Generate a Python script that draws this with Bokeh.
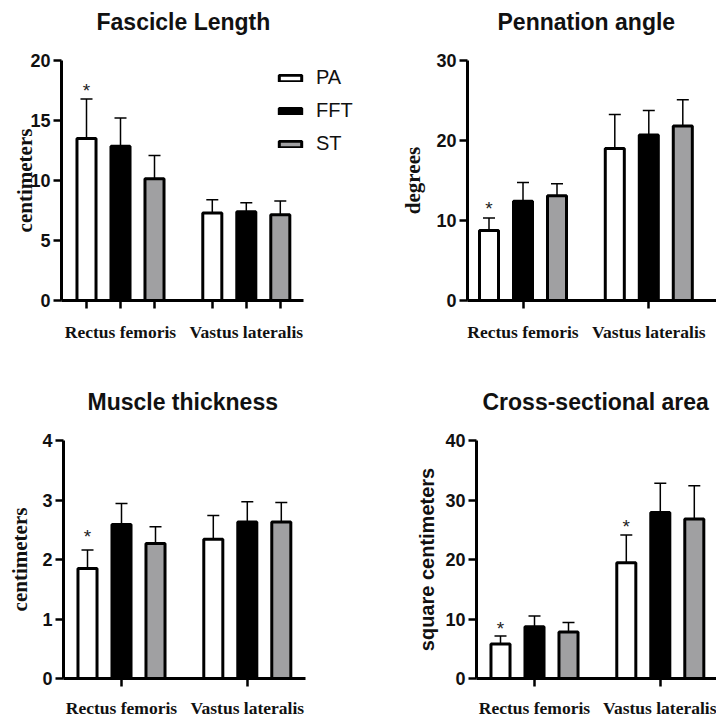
from bokeh.plotting import figure
from bokeh.models import Range1d, FixedTicker, Whisker, TeeHead, ColumnDataSource, Legend, LegendItem
from bokeh.layouts import column, row
from bokeh.embed import file_html
from bokeh.resources import INLINE
from bokeh.core.properties import value

# ---------------- data ----------------
groups = ["Rectus femoris", "Vastus lateralis"]
series = ["PA", "FFT", "ST"]
colors = ["#ffffff", "#000000", "#a0a0a2"]

# Fascicle length (cm)
fl_rf_mean = [13.5, 12.85, 10.15]
fl_rf_sd = [3.3, 2.35, 1.93]
fl_vl_mean = [7.3, 7.4, 7.15]
fl_vl_sd = [1.1, 0.75, 1.15]
fl_star_group = [0]
fl_star_y = [17.8]

# Pennation angle (degrees)
pa_rf_mean = [8.75, 12.4, 13.1]
pa_rf_sd = [1.55, 2.35, 1.5]
pa_vl_mean = [19.0, 20.7, 21.8]
pa_vl_sd = [4.25, 3.05, 3.3]
pa_star_group = [0]
pa_star_y = [12.0]

# Muscle thickness (cm)
mt_rf_mean = [1.85, 2.59, 2.27]
mt_rf_sd = [0.31, 0.35, 0.28]
mt_vl_mean = [2.34, 2.63, 2.63]
mt_vl_sd = [0.40, 0.34, 0.33]
mt_star_group = [0]
mt_star_y = [2.45]

# Cross-sectional area (cm^2)
csa_rf_mean = [5.8, 8.7, 7.8]
csa_rf_sd = [1.35, 1.8, 1.6]
csa_vl_mean = [19.45, 27.9, 26.8]
csa_vl_sd = [4.65, 4.9, 5.6]
csa_star_group = [0, 1]
csa_star_y = [9.1, 26.3]

SANS = "Liberation Sans"
SERIF = "Liberation Serif"
GROUP_SEP = 3.7      # distance between group centres, in bar pitches
PX_PER_UNIT = 34.0
BAR_W = 0.56


def panel(title, title_left, ylabel, ylabel_font, ylabel_size, ylabel_standoff, ymax, ystep,
          rf_mean, rf_sd, vl_mean, vl_sd, star_group, star_y,
          w, h, b_left, b_right, b_top, b_bottom, first_px, axis_len,
          per_bar_ticks=False, legend=False, xlabel_standoff=13):
    frame_w = w - b_left - b_right
    x0 = -1 - first_px / PX_PER_UNIT
    x1 = x0 + frame_w / PX_PER_UNIT
    p = figure(width=w, height=h, output_backend="svg", toolbar_location=None,
               x_range=Range1d(x0, x1), y_range=Range1d(0, ymax),
               min_border_left=b_left, min_border_right=b_right,
               min_border_top=b_top, min_border_bottom=b_bottom)
    p.outline_line_color = None
    p.grid.visible = False
    p.background_fill_color = "white"
    p.border_fill_color = "white"

    # a blank second line lifts the title higher above the frame
    p.title.text = title + "\n "
    p.title.text_font = SANS
    p.title.text_font_size = "23px"
    p.title.text_font_style = "bold"
    p.title.text_color = "#111111"
    p.title.align = "left"
    p.title.offset = title_left
    p.title.standoff = 0

    centers = [0.0, GROUP_SEP]
    renderers = []
    xs_all, lo_all, hi_all = [], [], []
    for i, s in enumerate(series):
        xs = [c + (i - 1) for c in centers]
        tops = [rf_mean[i], vl_mean[i]]
        sds = [rf_sd[i], vl_sd[i]]
        r = p.vbar(x=xs, top=tops, bottom=0, width=BAR_W, fill_color=colors[i],
                   line_color="black", line_width=3)
        renderers.append(r)
        xs_all += xs
        lo_all += tops
        hi_all += [t + d for t, d in zip(tops, sds)]

    src = ColumnDataSource(dict(x=xs_all, lower=lo_all, upper=hi_all))
    wk = Whisker(base="x", lower="lower", upper="upper", source=src,
                 dimension="height", line_color="black", line_width=1.5,
                 upper_head=TeeHead(size=12, line_color="black", line_width=1.5),
                 lower_head=None)
    p.add_layout(wk)

    sx = [centers[g] - 1 for g in star_group]
    p.text(x=sx, y=star_y, text=["*"] * len(sx), text_font=value(SANS),
           text_font_size="19px", text_align="center", text_baseline="middle",
           y_offset=4, text_color="#222222")

    # y axis
    ya = p.yaxis[0]
    ya.ticker = FixedTicker(ticks=list(range(0, ymax + 1, ystep)))
    ya.bounds = (0, ymax)
    ya.axis_line_width = 3
    ya.major_tick_line_width = 2.5
    ya.major_tick_out = 8
    ya.major_tick_in = 0
    ya.minor_tick_line_color = None
    ya.major_label_text_font = SANS
    ya.major_label_text_font_style = "bold"
    ya.major_label_text_font_size = "18px"
    ya.major_label_text_color = "#111111"
    ya.major_label_standoff = 3
    ya.axis_label = ylabel
    ya.axis_label_text_font = ylabel_font
    ya.axis_label_text_font_style = "bold"
    ya.axis_label_text_font_size = ylabel_size
    ya.axis_label_text_color = "#111111"
    ya.axis_label_standoff = ylabel_standoff

    # x axis
    xa = p.xaxis[0]
    if per_bar_ticks:
        ticks = [c + k for c in centers for k in (-1, 0, 1)]
    else:
        ticks = list(centers)
    xa.ticker = FixedTicker(ticks=ticks)
    overrides = {}
    for t in ticks:
        overrides[t] = ""
    for c, g in zip(centers, groups):
        overrides[c] = g
    xa.major_label_overrides = overrides
    xa.bounds = (x0, x0 + axis_len / PX_PER_UNIT)
    xa.axis_line_width = 3
    xa.major_tick_line_width = 2.5
    xa.major_tick_out = 8
    xa.major_tick_in = 0
    xa.minor_tick_line_color = None
    xa.major_label_text_font = SERIF
    xa.major_label_text_font_style = "bold"
    xa.major_label_text_font_size = "17.5px"
    xa.major_label_text_color = "#111111"
    xa.major_label_standoff = xlabel_standoff

    if legend:
        items = [LegendItem(label=s, renderers=[r]) for s, r in zip(series, renderers)]
        lg = Legend(items=items, location=(215, 145), orientation="vertical",
                    glyph_width=28, glyph_height=8, label_height=8, spacing=10,
                    padding=0, margin=0, label_standoff=12,
                    label_text_font=SANS, label_text_font_size="20px",
                    label_text_color="#111111",
                    border_line_alpha=0, background_fill_alpha=0)
        p.add_layout(lg)
    return p


p1 = panel("Fascicle Length", 35, "centimeters", SERIF, "21px", -10, 20, 5,
           fl_rf_mean, fl_rf_sd, fl_vl_mean, fl_vl_sd, fl_star_group, fl_star_y,
           360, 360, 61, 0, 60, 60, 25, 242, per_bar_ticks=True, legend=True)
p2 = panel("Pennation angle", 30, "degrees", SERIF, "21px", 8, 30, 10,
           pa_rf_mean, pa_rf_sd, pa_vl_mean, pa_vl_sd, pa_star_group, pa_star_y,
           356, 360, 107, 0, 60, 60, 21.5, 260)
p3 = panel("Muscle thickness", 24, "centimeters", SERIF, "21px", 7, 4, 1,
           mt_rf_mean, mt_rf_sd, mt_vl_mean, mt_vl_sd, mt_star_group, mt_star_y,
           360, 360, 63, 55, 80, 39, 24, 242, xlabel_standoff=11)
p4 = panel("Cross-sectional area", 6, "square centimeters", SANS, "20px", 4, 40, 10,
           csa_rf_mean, csa_rf_sd, csa_vl_mean, csa_vl_sd, csa_star_group, csa_star_y,
           356, 360, 116, 0, 80, 39, 24, 260, xlabel_standoff=11)

layout = column(row(p1, p2, spacing=0), row(p3, p4, spacing=0), spacing=0)
open("out.html", "w").write(file_html(layout, INLINE))
